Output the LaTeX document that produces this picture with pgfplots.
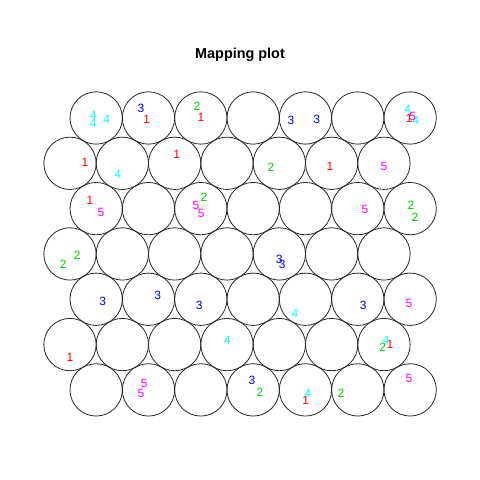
\documentclass[border=0pt]{standalone}
\usepackage{pgfplots}
\pgfplotsset{compat=1.18}
\usepackage{fontspec}
\setmainfont{Liberation Sans}
\definecolor{rred}{RGB}{255,0,0}
\definecolor{rgreen}{RGB}{0,205,0}
\definecolor{rblue}{RGB}{0,0,255}
\definecolor{rcyan}{RGB}{0,255,255}
\definecolor{rmagenta}{RGB}{255,0,255}
\begin{document}
\begin{tikzpicture}
\begin{axis}[
  width=480bp, height=480bp, scale only axis,
  xmin=-0.3377, xmax=8.835, ymin=-0.7218, ymax=8.4508,
  hide axis, clip=false,
  title={Mapping plot},
  every axis title shift=0pt,
  title style={at={(0.5,0.8854)}, anchor=center, font=\bfseries\fontsize{14.4bp}{17bp}\selectfont},
  lbl/.style={only marks, mark=*, mark size=0pt, mark options={draw=none,fill=none},
    nodes near coords={#1}},
]
\path (rel axis cs:0,0) rectangle (rel axis cs:1,1);
% unit circles (hexagonal grid)
\addplot[only marks, mark=o, mark size=26.17bp, mark options={line width=0.8bp, draw=black!85}] coordinates {
(1.5,1) (2.5,1) (3.5,1) (4.5,1) (5.5,1) (6.5,1) (7.5,1)
(1,1.866) (2,1.866) (3,1.866) (4,1.866) (5,1.866) (6,1.866) (7,1.866)
(1.5,2.732) (2.5,2.732) (3.5,2.732) (4.5,2.732) (5.5,2.732) (6.5,2.732) (7.5,2.732)
(1,3.598) (2,3.598) (3,3.598) (4,3.598) (5,3.598) (6,3.598) (7,3.598)
(1.5,4.464) (2.5,4.464) (3.5,4.464) (4.5,4.464) (5.5,4.464) (6.5,4.464) (7.5,4.464)
(1,5.330) (2,5.330) (3,5.330) (4,5.330) (5,5.330) (6,5.330) (7,5.330)
(1.5,6.196) (2.5,6.196) (3.5,6.196) (4.5,6.196) (5.5,6.196) (6.5,6.196) (7.5,6.196)
};
% class 1
\addplot[lbl=1, nodes near coords style={anchor=center, text=rred, font=\fontsize{12bp}{14bp}\selectfont}] coordinates {
(2.466,6.171) (3.503,6.202) (7.484,6.190)
(1.287,5.342) (3.039,5.502) (5.969,5.265)
(1.382,4.629)
(1.000,1.623) (7.115,1.871)
(5.504,0.794)
};
% class 2
\addplot[lbl=2, nodes near coords style={anchor=center, text=rgreen, font=\fontsize{12bp}{14bp}\selectfont}] coordinates {
(3.427,6.425)
(4.841,5.254)
(3.561,4.681) (7.517,4.533) (7.593,4.298)
(0.872,3.400) (1.140,3.565)
(6.976,1.806)
(4.631,0.954) (6.179,0.935)
};
% class 3
\addplot[lbl=3, nodes near coords style={anchor=center, text=rblue, font=\fontsize{12bp}{14bp}\selectfont}] coordinates {
(2.357,6.381) (5.223,6.144) (5.714,6.171)
(5.000,3.501) (5.057,3.406)
(1.625,2.686) (2.676,2.814) (3.471,2.622) (6.605,2.622)
(4.478,1.189)
};
% class 4
\addplot[lbl=4, nodes near coords style={anchor=center, text=rcyan, font=\fontsize{12bp}{14bp}\selectfont}] coordinates {
(1.445,6.253) (1.445,6.095) (1.701,6.171) (7.453,6.362) (7.612,6.144)
(1.912,5.120)
(5.300,2.464)
(4.006,1.954) (7.039,1.954)
(5.542,0.935)
};
% class 5
\addplot[lbl=5, nodes near coords style={anchor=center, text=rmagenta, font=\fontsize{12bp}{14bp}\selectfont}] coordinates {
(7.549,6.234)
(7.001,5.265)
(1.592,4.394) (3.408,4.533) (3.509,4.375) (6.637,4.451)
(7.478,2.655)
(2.420,1.126) (2.357,0.935) (7.478,1.222)
};
\end{axis}
\end{tikzpicture}
\end{document}
